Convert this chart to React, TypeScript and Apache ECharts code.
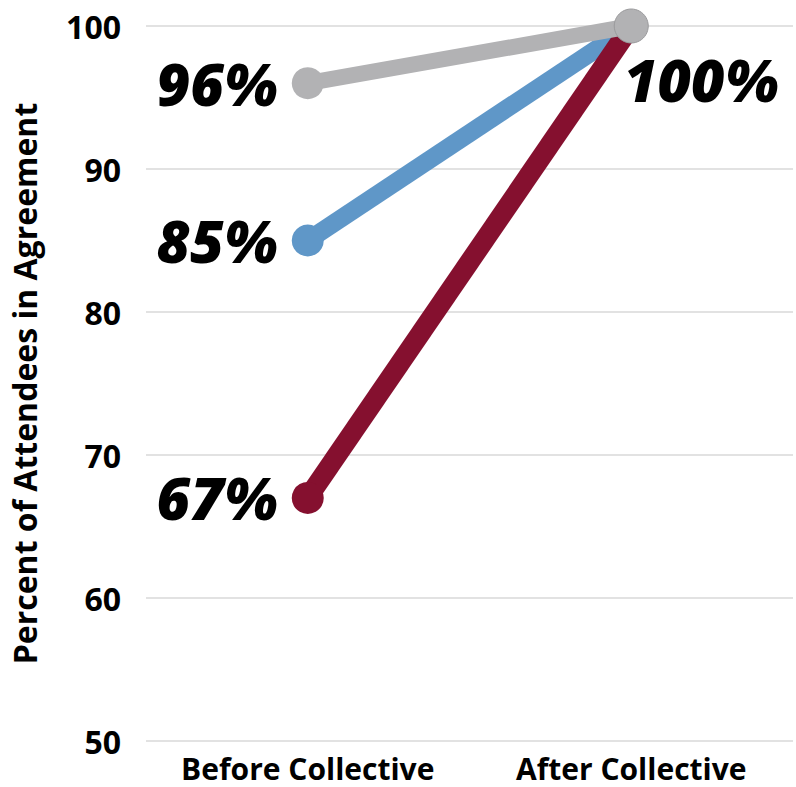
import React, { useEffect, useRef } from "react";
import * as echarts from "echarts";

const categories = ["Before Collective", "After Collective"];
const blueValues = [85, 100];
const maroonValues = [67, 100];
const greyValues = [96, 100];
const yTicks = [50, 60, 70, 80, 90, 100];

const labelFont = {
  fontFamily: "Open Sans",
  fontStyle: "italic" as const,
  fontWeight: 800,
  fontSize: 58,
  color: "#000",
};

export default function App() {
  const ref = useRef<HTMLDivElement>(null);
  useEffect(() => {
    document.body.style.margin = "0";
    if (!ref.current) return;
    const chart = echarts.init(ref.current, undefined, { renderer: "svg" });
    const mkSeries = (name: string, data: number[], color: string, width: number, z: number, lastLabel: boolean) => ({
      name,
      type: "line",
      data: data.map((v, i) => ({
        value: v,
        symbolSize: i === 0 ? 32 : lastLabel ? 34 : 30,
        itemStyle: i === 1 && lastLabel ? { color, borderColor: "#9a9a9c", borderWidth: 1 } : { color },
        label:
          i === 0
            ? { show: true, position: "left", distance: 14, formatter: "{c}%", ...labelFont }
            : lastLabel
            ? { show: true, position: "inside", offset: [70, 53], formatter: "{c}%", ...labelFont }
            : { show: false },
      })),
      symbol: "circle",
      lineStyle: { color, width },
      itemStyle: { color },
      z,
    });
    chart.setOption({
      animation: false,
      grid: { left: 142, right: 3, top: 26, bottom: 46 },
      xAxis: {
        type: "category",
        data: categories,
        boundaryGap: true,
        axisLine: { show: false },
        axisTick: { show: false },
        axisLabel: {
          interval: 0,
          fontFamily: "Open Sans",
          fontWeight: "bold",
          fontSize: 30,
          lineHeight: 30,
          color: "#000",
          margin: 12,
        },
      },
      yAxis: {
        type: "value",
        min: yTicks[0],
        max: yTicks[yTicks.length - 1],
        interval: 10,
        name: "Percent of Attendees in Agreement",
        nameLocation: "middle",
        nameGap: 106,
        nameTextStyle: {
          fontFamily: "Open Sans",
          fontWeight: "bold",
          fontSize: 32,
          color: "#000",
        },
        axisLine: { show: false },
        axisTick: { show: false },
        axisLabel: {
          fontFamily: "Open Sans",
          fontWeight: "bold",
          fontSize: 32,
          color: "#000",
          margin: 25,
        },
        splitLine: { lineStyle: { color: "#d9d9d9", width: 1.5 } },
      },
      series: [
        mkSeries("Blue", blueValues, "#5f97c8", 18, 2, false),
        mkSeries("Maroon", maroonValues, "#85102f", 20, 3, false),
        mkSeries("Grey", greyValues, "#b2b2b4", 16, 4, true),
      ],
    });
    return () => chart.dispose();
  }, []);
  return <div ref={ref} style={{ width: 796, height: 787 }} />;
}
